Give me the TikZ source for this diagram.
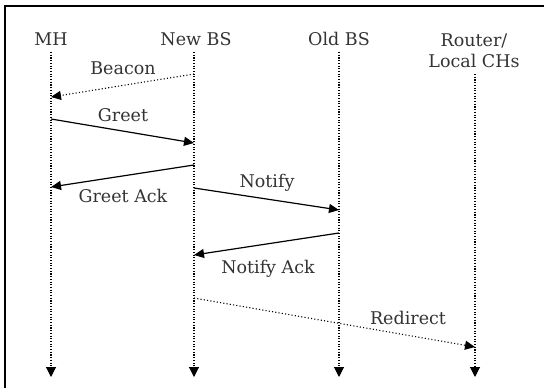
\documentclass[tikz,border=0pt]{standalone}
\usepackage{fontspec}
\setmainfont{DejaVu Serif}
\usetikzlibrary{arrows.meta}
\begin{document}
\begin{tikzpicture}[x=1pt,y=-1pt,
  lbl/.style={font=\fontsize{17.5}{21}\selectfont, text=black!80, inner sep=0pt, align=center},
  life/.style={line width=1.1pt, dash pattern=on 1.1pt off 1.6pt, -{Triangle[length=10pt,width=10pt]}},
  msg/.style={line width=1.2pt, -{Triangle[length=10pt,width=9pt]}},
  dmsg/.style={line width=1.1pt, dash pattern=on 1.1pt off 2.2pt, -{Triangle[length=10pt,width=9pt]}}]
\useasboundingbox (0,0) rectangle (544,388);
\draw[line width=1.3pt] (5,400) -- (5,6) -- (560,6);
% headers
\node[lbl] (mh) at (51,39) {MH};
\node[lbl] (nbs) at (196,39) {New BS};
\node[lbl] (obs) at (339,39) {Old BS};
\node[lbl] (rt) at (474,51) {Router/\\Local CHs};
% lifelines
\coordinate (mhT) at (51,52);   \coordinate (mhB) at (51,377);
\coordinate (nbT) at (194,52);  \coordinate (nbB) at (194,377);
\coordinate (obT) at (339,52);  \coordinate (obB) at (339,377);
\coordinate (rtT) at (475,74);  \coordinate (rtB) at (475,377);
\draw[life] (mhT) -- (mhB);
\draw[life] (nbT) -- (nbB);
\draw[life] (obT) -- (obB);
\draw[life] (rtT) -- (rtB);
% message endpoints
\coordinate (b1) at (194,74);  \coordinate (b2) at (51,97);
\coordinate (g1) at (51,119);  \coordinate (g2) at (194,143);
\coordinate (ga1) at (194,165); \coordinate (ga2) at (51,187);
\coordinate (n1) at (194,188); \coordinate (n2) at (339,210);
\coordinate (na1) at (339,233); \coordinate (na2) at (194,255);
\coordinate (r1) at (194,298); \coordinate (r2) at (475,347);
\draw[dmsg] (b1) -- (b2);
\draw[msg] (g1) -- (g2);
\draw[msg] (ga1) -- (ga2);
\draw[msg] (n1) -- (n2);
\draw[msg] (na1) -- (na2);
\draw[dmsg] (r1) -- (r2);
% labels
\node[lbl] (lb) at (123,68) {Beacon};
\node[lbl] (lg) at (123,115) {Greet};
\node[lbl] (lga) at (123,196) {Greet Ack};
\node[lbl] (ln) at (267,183) {Notify};
\node[lbl] (lna) at (268,269) {Notify Ack};
\node[lbl] (lr) at (408,318) {Redirect};
\end{tikzpicture}
\end{document}
